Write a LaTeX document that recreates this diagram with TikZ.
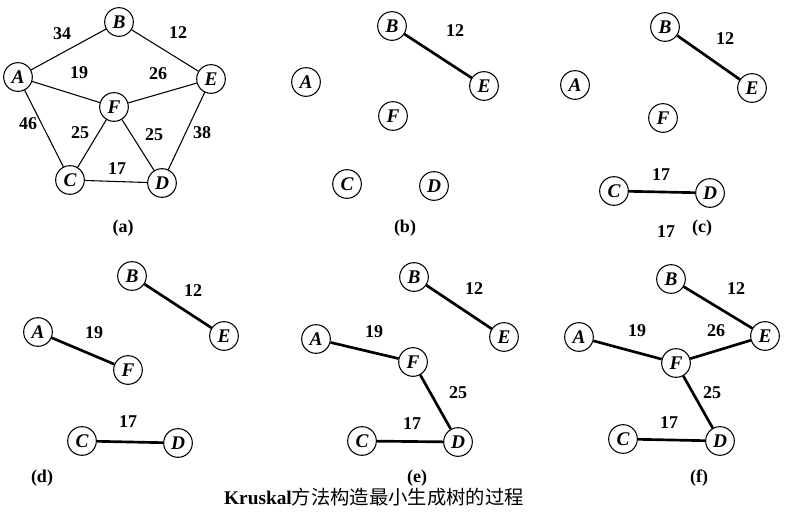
\documentclass[tikz,border=0pt]{standalone}
\usepackage{fontspec}
\setmainfont{Liberation Serif}
\newfontfamily\cjk{Noto Sans CJK SC}

\tikzset{
  vtx/.style={circle,draw,line width=0.8pt,minimum size=21.5pt,inner sep=0pt,
    font=\fontsize{14.5}{14.5}\selectfont\bfseries\itshape},
  wt/.style={font=\fontsize{13.5}{13.5}\selectfont\bfseries},
  subcap/.style={font=\fontsize{13.5}{13.5}\selectfont\bfseries},
  gedge/.style={line width=0.8pt},
  tedge/.style={line width=2pt}
}

\begin{document}
\begin{tikzpicture}[x=0.75pt,y=-0.75pt]
\useasboundingbox (0,0) rectangle (800,527);
% (a) the whole graph
\foreach \n/\x/\y in {A/18/77,B/119/22,E/211/79,F/114/107,C/70/180,D/162/183}
  \node[vtx] (a\n) at (\x,\y) {\n};
\draw[gedge] (aA) -- (aB);
\draw[gedge] (aB) -- (aE);
\draw[gedge] (aA) -- (aF);
\draw[gedge] (aF) -- (aE);
\draw[gedge] (aA) -- (aC);
\draw[gedge] (aE) -- (aD);
\draw[gedge] (aF) -- (aC);
\draw[gedge] (aF) -- (aD);
\draw[gedge] (aC) -- (aD);
\node[wt] (aAB) at (62,34) {34};
\node[wt] (aBE) at (178,33) {12};
\node[wt] (aAF) at (79,73) {19};
\node[wt] (aFE) at (158,74) {26};
\node[wt] (aAC) at (28,124) {46};
\node[wt] (aFC) at (80,133) {25};
\node[wt] (aFD) at (154,135) {25};
\node[wt] (aED) at (202,133) {38};
\node[wt] (aCD) at (117,169) {17};
\node[subcap] (capa) at (123,228) {(a)};

% (b)
\foreach \n/\x/\y in {A/306/82,B/392/26,E/484/86,F/393/116,C/347/184,D/434/186}
  \node[vtx] (b\n) at (\x,\y) {\n};
\draw[tedge] (bB) -- (bE);
\node[wt] (bBE) at (455,31) {12};
\node[subcap] (capb) at (405,228) {(b)};

% (c)
\foreach \n/\x/\y in {A/575/85,B/665/27,E/752/88,F/663/118,C/614/191,D/710/193}
  \node[vtx] (c\n) at (\x,\y) {\n};
\draw[tedge] (cB) -- (cE);
\draw[tedge] (cC) -- (cD);
\node[wt] (cBE) at (725,39) {12};
\node[wt] (cCD) at (661,175) {17};
\node[wt] (cextra) at (666,232) {17};
\node[subcap] (capc) at (702,228) {(c)};

% (d)
\foreach \n/\x/\y in {A/38/332,B/132/276,E/224/336,F/128/370,C/82/441,D/178/443}
  \node[vtx] (d\n) at (\x,\y) {\n};
\draw[tedge] (dB) -- (dE);
\draw[tedge] (dA) -- (dF);
\draw[tedge] (dC) -- (dD);
\node[wt] (dBE) at (193,291) {12};
\node[wt] (dAF) at (94,333) {19};
\node[wt] (dCD) at (128,422) {17};
\node[subcap] (capd) at (42,478) {(d)};

% (e)
\foreach \n/\x/\y in {A/316/339,B/414/277,E/504/337,F/413/362,C/362/441,D/458/442}
  \node[vtx] (e\n) at (\x,\y) {\n};
\draw[tedge] (eB) -- (eE);
\draw[tedge] (eA) -- (eF);
\draw[tedge] (eF) -- (eD);
\draw[tedge] (eC) -- (eD);
\node[wt] (eBE) at (474,289) {12};
\node[wt] (eAF) at (374,332) {19};
\node[wt] (eFD) at (458,393) {25};
\node[wt] (eCD) at (412,424) {17};
\node[subcap] (cape) at (417,478) {(e)};

% (f) the spanning tree
\foreach \n/\x/\y in {A/579/337,B/671/279,E/765/336,F/676/363,C/623/439,D/720/441}
  \node[vtx] (f\n) at (\x,\y) {\n};
\draw[tedge] (fB) -- (fE);
\draw[tedge] (fA) -- (fF);
\draw[tedge] (fF) -- (fE);
\draw[tedge] (fF) -- (fD);
\draw[tedge] (fC) -- (fD);
\node[wt] (fBE) at (736,289) {12};
\node[wt] (fAF) at (637,331) {19};
\node[wt] (fFE) at (716,331) {26};
\node[wt] (fFD) at (712,393) {25};
\node[wt] (fCD) at (669,423) {17};
\node[subcap] (capf) at (699,478) {(f)};

\node (title) at (374,497) {\fontsize{14.5}{14.5}\selectfont\textbf{Kruskal}{\cjk 方法构造最小生成树的过程}};
\end{tikzpicture}
\end{document}
